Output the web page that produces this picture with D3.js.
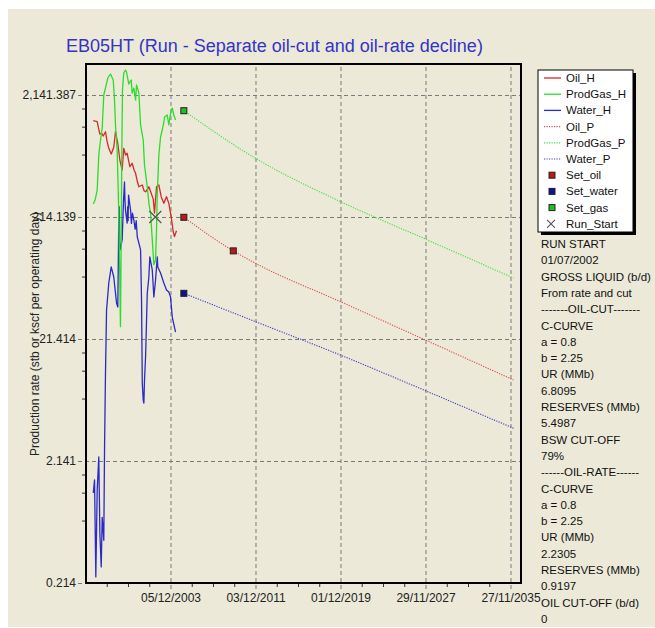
<!DOCTYPE html>
<html><head><meta charset="utf-8">
<script src="https://cdn.jsdelivr.net/npm/d3@7"></script>
<style>
body{margin:0;background:#fff}
svg{display:block}
text{font-family:"Liberation Sans",Arial,sans-serif}
</style>
</head><body>
<svg id="c" width="655" height="628"></svg>
<script>
// ---------------- data ----------------
const title = "EB05HT (Run - Separate oil-cut and oil-rate decline)";
const yLabel = "Production rate (stb or kscf per operating day)";
const yTicks = [0.2141387, 2.141387, 21.41387, 214.1387, 2141.387];
const yMax = 3844;
const xTickLabels = ["05/12/2003", "03/12/2011", "01/12/2019", "29/11/2027", "27/11/2035"];
const xStart = "07/12/1995";
const xEnd = "22/11/2036";
const minorStepDays = 730;

// history [decimal year, value]
const oilH = [[1996.66,1318],[1997.03,1293],[1997.15,1150],[1997.28,1026],[1997.45,1040],[1997.60,988],[1997.81,1071],[1997.95,900],[1998.12,783],[1998.35,703],[1998.59,798],[1998.75,1071],[1998.97,861],[1999.16,628],[1999.38,520],[1999.53,783],[1999.70,690],[1999.85,713],[2000.10,553],[2000.32,590],[2000.50,520],[2000.64,489],[2000.80,420],[2000.95,379],[2001.27,392],[2001.45,350],[2001.58,345],[2001.75,360],[2001.89,379],[2002.11,335],[2002.30,300],[2002.42,230],[2002.61,379],[2002.83,392],[2003.05,314],[2003.30,277],[2003.55,314],[2003.77,277],[2003.99,215],[2004.18,162],[2004.30,148],[2004.49,165]];
const gasH = [[1996.66,274],[1996.83,295],[1997.03,356],[1997.18,690],[1997.34,916],[1997.50,1149],[1997.65,2141],[1997.81,2444],[1998.03,2951],[1998.28,3183],[1998.54,2843],[1998.66,1949],[1998.75,1216],[1998.91,759],[1999.06,231],[1999.16,65],[1999.22,27],[1999.29,139],[1999.35,759],[1999.41,2353],[1999.53,3243],[1999.69,3432],[1999.79,3305],[2000.00,2636],[2000.23,2843],[2000.32,2224],[2000.48,2444],[2000.64,1949],[2000.73,2587],[2000.95,2224],[2001.11,1216],[2001.36,916],[2001.48,571],[2001.74,377],[2001.91,269],[2002.05,231],[2002.21,139],[2002.36,87],[2002.52,95],[2002.61,168],[2002.68,324],[2002.83,690],[2002.99,969],[2003.15,1106],[2003.30,1286],[2003.36,1414],[2003.62,1468],[2003.77,1216],[2003.93,1525],[2004.09,1675],[2004.24,1468],[2004.40,1336]];
const waterH = [[1996.66,1.17],[1996.78,1.50],[1996.90,0.24],[1997.03,1.24],[1997.18,2.31],[1997.28,0.55],[1997.41,0.29],[1997.50,0.74],[1997.65,0.48],[1997.72,2.64],[1997.81,11.3],[1997.91,37],[1998.12,61.6],[1998.35,83.4],[1998.59,69],[1998.85,42.3],[1998.97,39.2],[1999.06,202],[1999.10,260],[1999.14,150],[1999.18,115],[1999.38,139],[1999.51,295],[1999.60,415],[1999.64,300],[1999.69,244],[1999.85,191],[1999.90,260],[1999.94,200],[1999.98,324],[2000.17,244],[2000.25,190],[2000.35,230],[2000.48,202],[2000.60,170],[2000.70,200],[2000.80,147],[2001.11,115],[2001.20,44.7],[2001.27,9.33],[2001.36,6.77],[2001.42,6.40],[2001.48,9.88],[2001.58,15.3],[2001.74,51],[2001.89,69],[2001.98,101],[2002.21,78.8],[2002.36,47.3],[2002.52,65.2],[2002.68,101],[2002.73,83.4],[2002.99,74.4],[2003.30,61.6],[2003.55,54],[2003.77,52],[2003.93,47.3],[2004.09,32.4],[2004.40,24.4]];

// forecasts
const oilP = [[2005.18,213],[2009.83,113],[2011.92,89.4],[2019.92,43.3],[2027.91,21.0],[2036.19,9.88]];
const gasP = [[2005.18,1592],[2011.92,648],[2019.92,286],[2027.91,141],[2036.19,67.7]];
const waterP = [[2005.18,50.7],[2011.92,29.7],[2019.92,15.8],[2027.91,8.07],[2036.19,3.97]];

// set points
const setOil = [[2005.18,213],[2009.83,113]];
const setWater = [[2005.18,50.7]];
const setGas = [[2005.18,1592]];
const runStart = ["01/07/2002", 214.1387];

const legendNames = ["Oil_H","ProdGas_H","Water_H","Oil_P","ProdGas_P","Water_P","Set_oil","Set_water","Set_gas","Run_Start"];
const infoLines = ["RUN START","01/07/2002","GROSS LIQUID (b/d)","From rate and cut","-------OIL-CUT-------","C-CURVE","a = 0.8","b = 2.25","UR (MMb)","6.8095","RESERVES (MMb)","5.4987","BSW CUT-OFF","79%","------OIL-RATE------","C-CURVE","a = 0.8","b = 2.25","UR (MMb)","2.2305","RESERVES (MMb)","0.9197","OIL CUT-OFF (b/d)","0"];

// ---------------- styles ----------------
const C = {
  oilH:"#d42a2a", gasH:"#2ade2a", waterH:"#2a2ac8",
  oilP:"#dd4a4a", gasP:"#3fe03f", waterP:"#3a3ac4",
  setOil:"#c01818", setWater:"#10109a", setGas:"#20c020", run:"#555555"
};
const BG = "#ece9d8";

// ---------------- helpers ----------------
const parse = d3.utcParse("%d/%m/%Y");
function yd(v){ const yr=Math.floor(v); const a=Date.UTC(yr,0,1), b=Date.UTC(yr+1,0,1); return new Date(a+(v-yr)*(b-a)); }

const L = 86, R = 521, T = 64, B = 583;
const svg = d3.select("#c");
svg.append("rect").attr("x",0).attr("y",0).attr("width",655).attr("height",628).attr("fill","#fff");
svg.append("rect").attr("x",8).attr("y",9).attr("width",647).attr("height",618).attr("fill",BG);

const x = d3.scaleUtc().domain([parse(xStart), parse(xEnd)]).range([85.5, R]);
const y = d3.scaleLog().domain([yTicks[0], yMax]).range([B, T]);

// title
svg.append("text").attr("x",66).attr("y",52).attr("fill","#3434c4").attr("font-size",18).text(title);

// gridlines + labels (x)
const xTickDates = xTickLabels.map(parse);
const gx = svg.append("g").attr("transform",`translate(0,${B+6})`)
  .call(d3.axisBottom(x).tickValues(xTickDates).tickSize(-(B-T+6)).tickPadding(4).tickFormat(d3.utcFormat("%d/%m/%Y")));
gx.select(".domain").remove();
gx.selectAll("line").attr("stroke","#7a7a7a").attr("stroke-dasharray","4,3");
gx.selectAll("text").attr("font-size",12).attr("fill","#222").style("font-family",'"Liberation Sans",Arial,sans-serif');

const gy = svg.append("g").attr("transform",`translate(78,0)`)
  .call(d3.axisLeft(y).tickValues(yTicks).tickSize(-(R-78)).tickPadding(2).tickFormat(d3.format(",.3f")));
gy.select(".domain").remove();
gy.selectAll("line").attr("stroke","#7a7a7a").attr("stroke-dasharray","4,3");
gy.selectAll("text").attr("font-size",12).attr("fill","#222").style("font-family",'"Liberation Sans",Arial,sans-serif');

// minor ticks
const s0 = parse(xStart);
const minorX = d3.range(0, 40).map(k => d3.utcDay.offset(s0, minorStepDays*k)).filter(d => d > s0 && d <= x.domain()[1] && !xTickDates.some(t=>Math.abs(t-d)<864e5*3));
const mx = svg.append("g").attr("transform",`translate(0,${B})`).call(d3.axisBottom(x).tickValues(minorX).tickSize(4).tickFormat(""));
mx.select(".domain").remove(); mx.selectAll("line").attr("stroke","#333");
const minorY = [];
for (let i=0;i<yTicks.length;i++){ const lo=yTicks[i], hi=lo*10; [1,2,3].forEach(k=>{ const v=lo+(hi-lo)*k/4; if(v<yMax) minorY.push(v); }); }
const my = svg.append("g").attr("transform",`translate(${L},0)`).call(d3.axisLeft(y).tickValues(minorY).tickSize(4).tickFormat(""));
my.select(".domain").remove(); my.selectAll("line").attr("stroke","#333");

// y label
svg.append("text").attr("transform",`translate(39,334) rotate(-90)`).attr("text-anchor","middle")
  .attr("font-size",12).attr("fill","#222").text(yLabel);

// clip
svg.append("clipPath").attr("id","clip").append("rect").attr("x",L).attr("y",T).attr("width",R-L).attr("height",B-T);
const plot = svg.append("g").attr("clip-path","url(#clip)");

const line = d3.line().x(d=>x(yd(d[0]))).y(d=>y(d[1]));
const lineC = d3.line().x(d=>x(yd(d[0]))).y(d=>y(d[1])).curve(d3.curveMonotoneX);

// forecasts (dotted)
[[gasP,C.gasP],[oilP,C.oilP],[waterP,C.waterP]].forEach(([d,c])=>{
  plot.append("path").attr("d",lineC(d)).attr("fill","none").attr("stroke",c).attr("stroke-width",1.1).attr("stroke-dasharray","1.2,1.3");
});
// history
[[oilH,C.oilH],[waterH,C.waterH],[gasH,C.gasH]].forEach(([d,c])=>{
  plot.append("path").attr("d",line(d)).attr("fill","none").attr("stroke",c).attr("stroke-width",1.3).attr("stroke-linejoin","round");
});

// markers
function squares(data, fill){
  plot.selectAll(null).data(data).enter().append("rect")
    .attr("x",d=>x(yd(d[0]))-3).attr("y",d=>y(d[1])-3).attr("width",6).attr("height",6)
    .attr("fill",fill).attr("stroke","#222").attr("stroke-width",1);
}
squares(setGas, C.setGas); squares(setOil, C.setOil); squares(setWater, C.setWater);
const rx = x(parse(runStart[0])), ry = y(runStart[1]);
plot.append("path").attr("d",`M${rx-6},${ry-6}L${rx+6},${ry+6}M${rx-6},${ry+6}L${rx+6},${ry-6}`)
  .attr("stroke",C.run).attr("stroke-width",1.2).attr("fill","none");

// frame
svg.append("rect").attr("x",L).attr("y",T).attr("width",R-L).attr("height",B-T)
  .attr("fill","none").attr("stroke","#000").attr("stroke-width",2);

// legend
const lgX=538, lgY=70, lgW=95, lgH=162;
svg.append("rect").attr("x",lgX+3).attr("y",lgY+3).attr("width",lgW).attr("height",lgH).attr("fill","#000");
svg.append("rect").attr("x",lgX).attr("y",lgY).attr("width",lgW).attr("height",lgH).attr("fill","#fff").attr("stroke","#000").attr("stroke-width",1);
const lgStyles = [
  {t:"line",c:C.oilH},{t:"line",c:C.gasH},{t:"line",c:C.waterH},
  {t:"dot",c:C.oilP},{t:"dot",c:C.gasP},{t:"dot",c:C.waterP},
  {t:"sq",c:C.setOil},{t:"sq",c:C.setWater},{t:"sq",c:C.setGas},{t:"x",c:C.run}
];
legendNames.forEach((n,i)=>{
  const cy = 78 + i*16.2, st = lgStyles[i];
  if (st.t==="line") svg.append("line").attr("x1",544).attr("x2",561).attr("y1",cy).attr("y2",cy).attr("stroke",st.c).attr("stroke-width",1.3);
  if (st.t==="dot") svg.append("line").attr("x1",544).attr("x2",561).attr("y1",cy).attr("y2",cy).attr("stroke",st.c).attr("stroke-width",1.2).attr("stroke-dasharray","1.2,1.3");
  if (st.t==="sq") svg.append("rect").attr("x",549).attr("y",cy-3).attr("width",6).attr("height",6).attr("fill",st.c).attr("stroke","#222");
  if (st.t==="x") svg.append("path").attr("d",`M${547},${cy-4}L${555},${cy+4}M${547},${cy+4}L${555},${cy-4}`).attr("stroke",st.c).attr("stroke-width",1.1);
  svg.append("text").attr("x",566).attr("y",cy+4).attr("font-size",11.5).attr("fill","#111").text(n);
});

// info panel
infoLines.forEach((s,i)=>{
  svg.append("text").attr("x",541).attr("y",248 + i*16.3).attr("font-size",11.5).attr("fill","#111").text(s);
});
</script>
</body></html>
